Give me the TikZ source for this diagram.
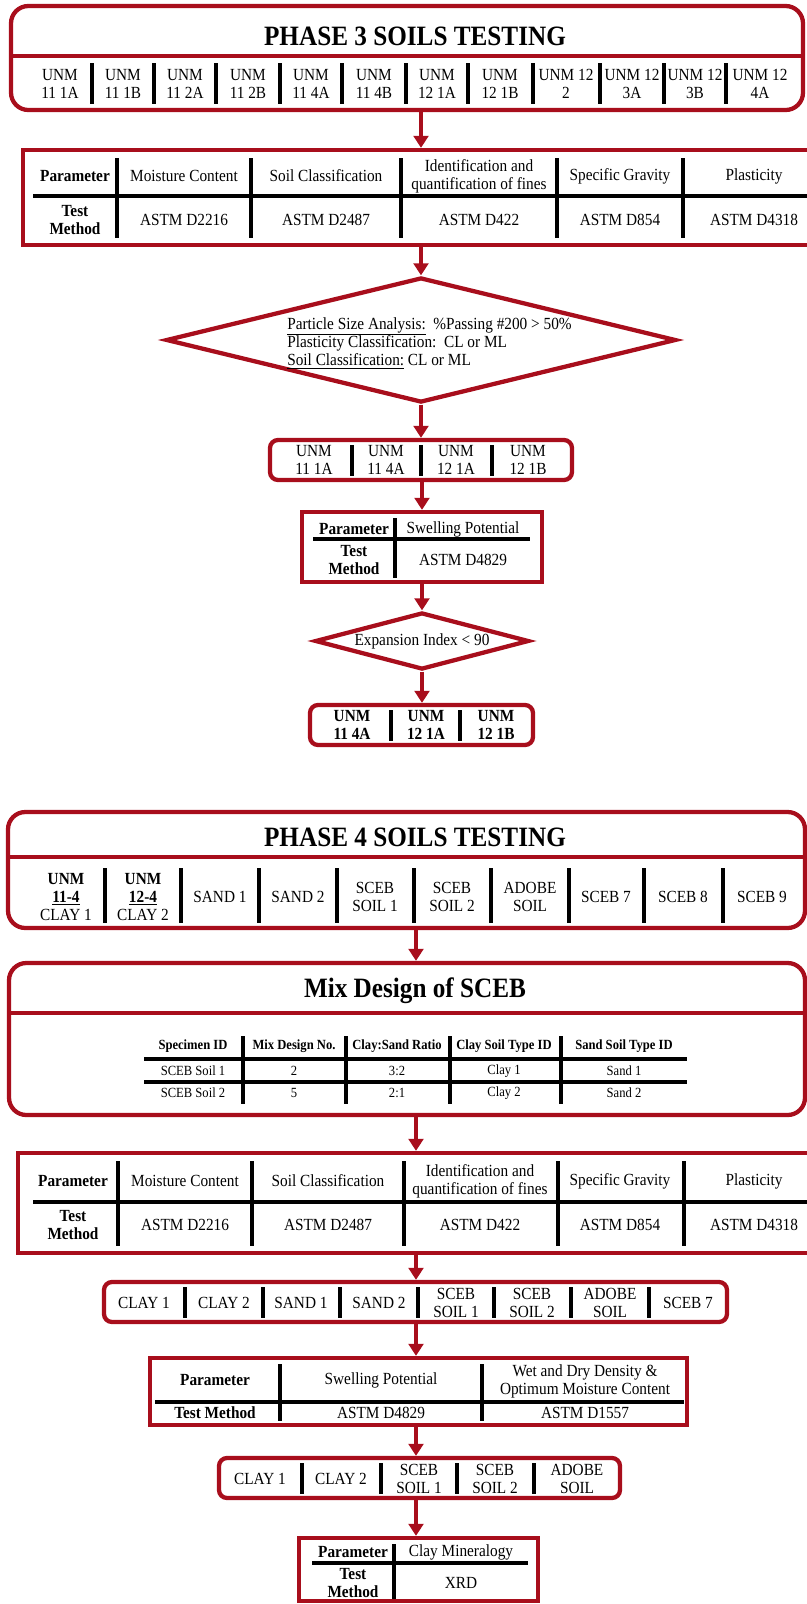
\documentclass[tikz,border=0pt]{standalone}
\usepackage{fontspec}
\setmainfont{Liberation Serif}[FakeStretch=0.9]
\usetikzlibrary{arrows.meta,shapes.geometric,fit}
\definecolor{bred}{HTML}{A80E1C}
\begin{document}
\begin{tikzpicture}[x=0.75pt,y=-0.75pt,
  redbox/.style={draw=bred,line width=3.2pt,inner sep=0pt,fill=white},
  rbig/.style={redbox,rounded corners=13pt},
  rsmall/.style={redbox,rounded corners=6pt},
  sep/.style={line width=2.6pt,black},
  tabrule/.style={line width=2.4pt,black},
  div/.style={draw=bred,line width=3.2pt},
  arr/.style={draw=bred,line width=3pt,-{Triangle[width=11pt,length=9pt]}},
  txt/.style={font=\fontsize{12.75}{13.5}\selectfont,align=center,inner sep=0pt},
  btxt/.style={font=\fontsize{12.75}{13.5}\selectfont\bfseries,align=center,inner sep=0pt},
  ttl/.style={font=\fontsize{21}{24}\selectfont\bfseries,inner sep=0pt},
  stxt/.style={font=\fontsize{10.5}{12}\selectfont,align=center,inner sep=0pt},
  sbtxt/.style={font=\fontsize{10.5}{12}\selectfont\bfseries,align=center,inner sep=0pt},
  dia/.style={diamond,draw=bred,line width=3.2pt,fill=white,inner sep=0pt},
]
\useasboundingbox (0,0) rectangle (807,1604);

% ================= PHASE 3 =================
\node[rbig,fit={(11,6)(803,110)}] (p3) {};
\draw[div] (11,56) -- (803,56);
\node[ttl] (p3title) at (415,36) {PHASE 3 SOILS TESTING};
\foreach \x/\t [count=\i] in {60/{UNM\\11 1A},123/{UNM\\11 1B},185/{UNM\\11 2A},248/{UNM\\11 2B},311/{UNM\\11 4A},374/{UNM\\11 4B},437/{UNM\\12 1A},500/{UNM\\12 1B},566/{UNM 12\\2},632/{UNM 12\\3A},695/{UNM 12\\3B},760/{UNM 12\\4A}}
  \node[txt] (p3e\i) at (\x,84) {\t};
\foreach \x in {92,154,216,280,342,406,468,533,600,664,726}
  \draw[sep] (\x,63) -- (\x,104);

% ---- parameter table 1
\node[redbox,fit={(23,150)(830,245)}] (t1) {};
\draw[tabrule] (33,196) -- (830,196);
\foreach \x in {117,251,401,557,683}
  \draw[sep] (\x,158) -- (\x,238);
\node[btxt] (t1h1) at (75,176) {Parameter};
\node[txt] (t1h2) at (184,176) {Moisture Content};
\node[txt] (t1h3) at (326,176) {Soil Classification};
\node[txt] (t1h4) at (479,176) {Identification and\\quantification of fines};
\node[txt] (t1h5) at (620,176) {Specific Gravity};
\node[txt] (t1h6) at (754,176) {Plasticity};
\node[btxt] (t1r1) at (75,220) {Test\\Method};
\node[txt] (t1r2) at (184,220) {ASTM D2216};
\node[txt] (t1r3) at (326,220) {ASTM D2487};
\node[txt] (t1r4) at (479,220) {ASTM D422};
\node[txt] (t1r5) at (620,220) {ASTM D854};
\node[txt] (t1r6) at (754,220) {ASTM D4318};

% ---- diamond 1
\node[dia,minimum width=382.5pt,minimum height=93.75pt] (d1) at (421,340) {};
\node[font=\fontsize{12.75}{13.8}\selectfont,inner sep=0pt,align=left,anchor=west] (d1t) at (287,343) {\underline{Particle Size Analysis:}\ \ \%Passing \#200 > 50\%\\Plasticity Classification:\ \ CL or ML\\\underline{Soil Classification:} CL or ML};

% ---- UNM 4 box
\node[rsmall,fit={(270,440)(572,480)}] (u4) {};
\foreach \x in {352,421,492}
  \draw[sep] (\x,445) -- (\x,476);
\foreach \x/\t [count=\i] in {314/{UNM\\11 1A},386/{UNM\\11 4A},456/{UNM\\12 1A},528/{UNM\\12 1B}}
  \node[txt] (u4e\i) at (\x,460) {\t};

% ---- swelling table
\node[redbox,fit={(302,512)(542,582)}] (sw) {};
\draw[tabrule] (313,539) -- (530,539);
\draw[sep] (395,518) -- (395,578);
\node[btxt] (swh1) at (354,529) {Parameter};
\node[txt] (swh2) at (463,529) {Swelling Potential};
\node[btxt] (swr1) at (354,560) {Test\\Method};
\node[txt] (swr2) at (463,560) {ASTM D4829};

% ---- diamond 2
\node[dia,minimum width=160.5pt,minimum height=42.75pt] (d2) at (422,641) {};
\node[txt] (d2t) at (d2) {Expansion Index < 90};

% ---- UNM 3 box
\node[rsmall,fit={(310,705)(533,745)}] (u3) {};
\foreach \x in {391,460}
  \draw[sep] (\x,710) -- (\x,741);
\foreach \x/\t [count=\i] in {352/{UNM\\11 4A},426/{UNM\\12 1A},496/{UNM\\12 1B}}
  \node[btxt] (u3e\i) at (\x,725) {\t};

% ---- phase 3 arrows
\draw[arr] (p3.south -| d1) -- (t1.north -| d1);
\draw[arr] (t1.south -| d1) -- (d1.north);
\draw[arr] (d1.south) -- (u4.north -| d1);
\draw[arr] (u4.south -| d2) -- (sw.north -| d2);
\draw[arr] (sw.south -| d2) -- (d2.north);
\draw[arr] (d2.south) -- (u3.north -| d2);

% ================= PHASE 4 =================
\coordinate (ax) at (416,900);
\node[rbig,fit={(8,812)(805,928)}] (p4) {};
\draw[div] (8,857) -- (805,857);
\node[ttl] (p4title) at (415,837) {PHASE 4 SOILS TESTING};
\foreach \x in {105,181,259,337,414,491,569,644,723}
  \draw[sep] (\x,868) -- (\x,923);
\node[txt] (p4e1) at (66,897) {\textbf{UNM}\\\textbf{\underline{11-4}}\\CLAY 1};
\node[txt] (p4e2) at (143,897) {\textbf{UNM}\\\textbf{\underline{12-4}}\\CLAY 2};
\foreach \x/\t [count=\i from 3] in {220/{SAND 1},298/{SAND 2},375/{SCEB\\SOIL 1},452/{SCEB\\SOIL 2},530/{ADOBE\\SOIL},606/{SCEB 7},683/{SCEB 8},762/{SCEB 9}}
  \node[txt] (p4e\i) at (\x,897) {\t};

% ---- mix design
\node[rbig,fit={(9,963)(805,1115)}] (mx) {};
\draw[div] (9,1013) -- (805,1013);
\node[ttl] (mxtitle) at (415,991) {Mix Design of SCEB};
\draw[tabrule] (144,1059) -- (687,1059);
\draw[tabrule] (144,1082) -- (687,1082);
\foreach \x in {243,346,450,561}
  \draw[sep] (\x,1036) -- (\x,1104);
\foreach \x/\a/\b/\c [count=\i] in {193/{Specimen ID}/{SCEB Soil 1}/{SCEB Soil 2},294/{Mix Design No.}/2/5,397/{Clay:Sand Ratio}/3:2/2:1,504/{Clay Soil Type ID}/{Clay 1}/{Clay 2},624/{Sand Soil Type ID}/{Sand 1}/{Sand 2}}
{
  \node[sbtxt] (mxh\i) at (\x,1046) {\a};
  \node[stxt] (mxa\i) at (\x,1071) {\b};
  \node[stxt] (mxb\i) at (\x,1093) {\c};
}

% ---- parameter table 2
\node[redbox,fit={(18,1153)(830,1253)}] (t2) {};
\draw[tabrule] (33,1202) -- (830,1202);
\foreach \x in {118,252,404,558,684}
  \draw[sep] (\x,1161) -- (\x,1246);
\node[btxt] (t2h1) at (73,1181) {Parameter};
\node[txt] (t2h2) at (185,1181) {Moisture Content};
\node[txt] (t2h3) at (328,1181) {Soil Classification};
\node[txt] (t2h4) at (480,1181) {Identification and\\quantification of fines};
\node[txt] (t2h5) at (620,1181) {Specific Gravity};
\node[txt] (t2h6) at (754,1181) {Plasticity};
\node[btxt] (t2r1) at (73,1225) {Test\\Method};
\node[txt] (t2r2) at (185,1225) {ASTM D2216};
\node[txt] (t2r3) at (328,1225) {ASTM D2487};
\node[txt] (t2r4) at (480,1225) {ASTM D422};
\node[txt] (t2r5) at (620,1225) {ASTM D854};
\node[txt] (t2r6) at (754,1225) {ASTM D4318};

% ---- 8 samples box
\node[rsmall,fit={(104,1282)(727,1322)}] (c8) {};
\foreach \x in {185,263,340,418,494,571,649}
  \draw[sep] (\x,1287) -- (\x,1318);
\foreach \x/\t [count=\i] in {144/{CLAY 1},224/{CLAY 2},301/{SAND 1},379/{SAND 2},456/{SCEB\\SOIL 1},532/{SCEB\\SOIL 2},610/{ADOBE\\SOIL},688/{SCEB 7}}
  \node[txt] (c8e\i) at (\x,1303) {\t};

% ---- parameter table 3
\node[redbox,fit={(150,1358)(687,1425)}] (pm) {};
\draw[tabrule] (155,1402) -- (684,1402);
\foreach \x in {280,482}
  \draw[sep] (\x,1364) -- (\x,1421);
\node[btxt] (pmh1) at (215,1380) {Parameter};
\node[txt] (pmh2) at (381,1380) {Swelling Potential};
\node[txt] (pmh3) at (585,1381) {Wet and Dry Density \&\\Optimum Moisture Content};
\node[btxt] (pmr1) at (215,1413) {Test Method};
\node[txt] (pmr2) at (381,1413) {ASTM D4829};
\node[txt] (pmr3) at (585,1413) {ASTM D1557};

% ---- 5 samples box
\node[rsmall,fit={(219,1458)(620,1498)}] (c5) {};
\foreach \x in {302,381,457,534}
  \draw[sep] (\x,1463) -- (\x,1494);
\foreach \x/\t [count=\i] in {260/{CLAY 1},341/{CLAY 2},419/{SCEB\\SOIL 1},495/{SCEB\\SOIL 2},577/{ADOBE\\SOIL}}
  \node[txt] (c5e\i) at (\x,1479) {\t};

% ---- clay mineralogy table
\node[redbox,fit={(299,1538)(538,1601)}] (fb) {};
\draw[tabrule] (312,1563) -- (528,1563);
\draw[sep] (394,1544) -- (394,1599);
\node[btxt] (fbh1) at (353,1552) {Parameter};
\node[txt] (fbh2) at (461,1552) {Clay Mineralogy};
\node[btxt] (fbr1) at (353,1583) {Test\\Method};
\node[txt] (fbr2) at (461,1583) {XRD};

% ---- phase 4 arrows
\draw[arr] (p4.south -| ax) -- (mx.north -| ax);
\draw[arr] (mx.south -| ax) -- (t2.north -| ax);
\draw[arr] (t2.south -| ax) -- (c8.north -| ax);
\draw[arr] (c8.south -| ax) -- (pm.north -| ax);
\draw[arr] (pm.south -| ax) -- (c5.north -| ax);
\draw[arr] (c5.south -| ax) -- (fb.north -| ax);
\end{tikzpicture}
\end{document}
